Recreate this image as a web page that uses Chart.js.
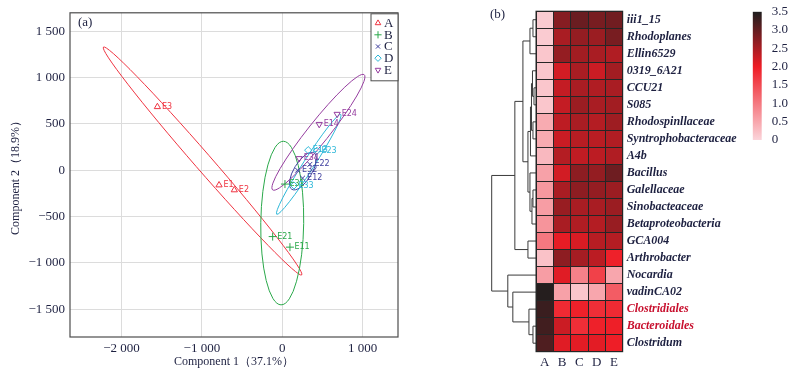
<!DOCTYPE html>
<html>
<head>
<meta charset="utf-8">
<script src="https://cdn.jsdelivr.net/npm/chart.js@4.4.1/dist/chart.umd.min.js"></script>
<style>
    body { margin: 0; background: #fff; }
    #wrap { position: relative; width: 791px; height: 371px; overflow: hidden; }
    canvas { position: absolute; top: 0; }
</style>
</head>
<body>
<div id="wrap">
    <canvas id="pca" width="410" height="371" style="left:0"></canvas>
    <canvas id="heat" width="265" height="371" style="left:480px"></canvas>
    <canvas id="bar" width="51" height="160" style="left:740px"></canvas>
</div>
<script>
// ---- panel (a) data ----
const groups = ["A", "B", "C", "D", "E"]
const namesA = ["E1", "E2", "E3"], xA = [-786, -596, -1553], yA = [-160, -213, 685]
const namesB = ["E11", "E21", "E31"], xB = [96, -119, 34], yB = [-830, -716, -149]
const namesC = ["E12", "E22", "E32"], xC = [253, 344, 191], yC = [-85, 64, 0]
const namesD = ["E13", "E23", "E33"], xD = [323, 431, 146], yD = [217, 210, -164]
const namesE = ["E14", "E24", "E34"], xE = [460, 683, 211], yE = [497, 606, 128]

// ellipse: centre, first semi-diameter, conjugate semi-diameter (data units)
const ellCentre = [[-991, 100], [0, -570], [257, -9], [330, 64], [450, 410]]
const ellU = [[-1233, 1230], [15, 883], [137, 197], [398, 539], [569, 622]]
const ellV = [[80, 59], [267, -5], [96, -49], [58, -31], [105, -68]]

const xTicks = [-2000, -1000, 0, 1000]
const yTicks = [-1500, -1000, -500, 0, 500, 1000, 1500]

// ---- panel (b) data ----
const rowLabels = ["iii1_15", "Rhodoplanes", "Ellin6529", "0319_6A21", "CCU21", "S085", "Rhodospinllaceae",
    "Syntrophobacteraceae", "A4b", "Bacillus", "Galellaceae", "Sinobacteaceae", "Betaproteobacteria",
    "GCA004", "Arthrobacter", "Nocardia", "vadinCA02", "Clostridiales", "Bacteroidales", "Clostridum"]
const redRows = ["Clostridiales", "Bacteroidales"]
const colLabels = ["A", "B", "C", "D", "E"]
const colA = [0.1, 0.1, 0.15, 0.15, 0.15, 0.15, 0.45, 0.45, 0.3, 0.55, 0.65, 0.6, 0.7, 1.0, 0.2, 0.6, 3.45, 3.3, 3.25, 3.15]
const colB = [2.75, 2.5, 2.65, 2.2, 2.3, 2.3, 2.35, 2.27, 2.42, 2.2, 2.5, 2.62, 2.5, 2.05, 2.7, 2.1, 0.55, 1.85, 2.25, 2.1]
const colC = [2.95, 2.65, 2.55, 2.5, 2.5, 2.6, 2.5, 2.4, 2.33, 2.7, 2.7, 2.5, 2.45, 2.15, 2.53, 0.9, 0.15, 1.95, 1.8, 2.08]
const colD = [2.85, 2.6, 2.5, 2.25, 2.45, 2.5, 2.42, 2.38, 2.36, 2.65, 2.65, 2.5, 2.42, 2.4, 2.37, 1.6, 0.5, 1.8, 1.95, 2.08]
const colE = [2.9, 2.85, 2.45, 2.55, 2.5, 2.55, 2.58, 2.45, 2.45, 2.92, 2.6, 2.6, 2.62, 2.42, 1.95, 0.5, 1.3, 1.85, 1.97, 1.98]

// row clustering: [left, right, height]; ids >= 20 are earlier merges
const merges = [
    [0, 1, 0.3], [20, 2, 0.6], [4, 5, 0.2], [3, 22, 0.35], [6, 7, 0.3], [23, 24, 0.45],
    [25, 8, 0.55], [10, 11, 0.3], [27, 12, 0.4], [9, 28, 0.6], [26, 29, 0.8], [21, 30, 1.3],
    [13, 14, 0.8], [31, 32, 2.1], [18, 19, 0.3], [17, 34, 0.7], [16, 35, 2.3], [15, 36, 2.8],
    [33, 37, 4.4]
]

const cbTicks = [0, 0.5, 1.0, 1.5, 2.0, 2.5, 3.0, 3.5]

// ---- styles ----
const serif = "'Liberation Serif', 'DejaVu Serif', serif"
const ink = "#1d2040"
const colors = ["#ef3340", "#2aa84a", "#3f3f9f", "#2db7d8", "#953d9f"]
const styles = ["triangle", "cross", "crossRot", "rectRot", "triangle"]
const rotations = [0, 0, 0, 0, 180]
const radii = [3.6, 4, 3.4, 3.6, 3.6]
const heatStops = [[0, [251, 212, 218]], [2, [238, 28, 37]], [3.5, [30, 30, 30]]]

let heatColor = (v) => {
    for (let i = 1; i < heatStops.length; i++) {
        let [v0, c0] = heatStops[i - 1]
        let [v1, c1] = heatStops[i]
        if (v <= v1 || i === heatStops.length - 1) {
            let t = Math.max(0, Math.min(1, (v - v0) / (v1 - v0)))
            let c = c0.map((c, k) => Math.round(c + (c1[k] - c) * t))
            return `rgb(${c[0]},${c[1]},${c[2]})`
        }
    }
}

let fmt = (v) => (v < 0 ? "\u2212" : "") + String(Math.abs(v)).replace(/\B(?=(\d{3})+(?!\d))/g, " ")

// ---- panel (a) ----
const pts = [[namesA, xA, yA], [namesB, xB, yB], [namesC, xC, yC], [namesD, xD, yD], [namesE, xE, yE]]

const ellipsePlugin = {
    id: "ellipses",
    beforeDatasetsDraw(chart) {
        const {ctx, scales: {x, y}, chartArea} = chart
        ctx.save()
        ctx.beginPath()
        ctx.rect(chartArea.left, chartArea.top, chartArea.right - chartArea.left, chartArea.bottom - chartArea.top)
        ctx.clip()
        groups.forEach((g, i) => {
            const [cx, cy] = ellCentre[i]
            const px = x.getPixelForValue(cx), py = y.getPixelForValue(cy)
            const ux = x.getPixelForValue(cx + ellU[i][0]) - px, uy = y.getPixelForValue(cy + ellU[i][1]) - py
            const vx = x.getPixelForValue(cx + ellV[i][0]) - px, vy = y.getPixelForValue(cy + ellV[i][1]) - py
            ctx.save()
            ctx.transform(ux, uy, vx, vy, px, py)
            ctx.beginPath()
            ctx.arc(0, 0, 1, 0, Math.PI * 2)
            ctx.restore()
            ctx.strokeStyle = colors[i]
            ctx.lineWidth = 1
            ctx.stroke()
        })
        ctx.restore()
    }
}

const labelPlugin = {
    id: "pointLabels",
    afterDatasetsDraw(chart) {
        const ctx = chart.ctx
        ctx.save()
        ctx.font = "8px 'DejaVu Sans', sans-serif"
        ctx.textBaseline = "middle"
        chart.data.datasets.forEach((ds, i) => {
            chart.getDatasetMeta(i).data.forEach((el, k) => {
                ctx.fillStyle = colors[i]
                ctx.fillText(pts[i][0][k], el.x + 4.5, el.y)
            })
        })
        ctx.restore()
    }
}

const framePlugin = {
    id: "frame",
    afterDraw(chart) {
        const {ctx, chartArea: a} = chart
        ctx.save()
        ctx.strokeStyle = "#4d4d4d"
        ctx.lineWidth = 1.2
        ctx.strokeRect(a.left, a.top, a.right - a.left, a.bottom - a.top)

        // legend box
        const w = 27, h = 67, lx = a.right - w, ly = a.top + 1
        ctx.fillStyle = "#fff"
        ctx.fillRect(lx, ly, w, h)
        ctx.lineWidth = 1
        ctx.strokeRect(lx, ly, w, h)
        groups.forEach((g, i) => {
            const yy = ly + 9.3 + i * 11.7
            ctx.strokeStyle = colors[i]
            ctx.fillStyle = "rgba(0,0,0,0)"
            ctx.lineWidth = 1
            Chart.helpers.drawPoint(ctx, {
                pointStyle: styles[i], rotation: rotations[i], radius: radii[i] - 0.4, borderWidth: 1
            }, lx + 7, yy)
            ctx.fillStyle = ink
            ctx.font = `13px ${serif}`
            ctx.textBaseline = "middle"
            ctx.fillText(g, lx + 13, yy + 0.5)
        })
        ctx.font = `13px ${serif}`
        ctx.fillStyle = ink
        ctx.fillText("(a)", a.left + 8, a.top + 10)
        ctx.restore()
    }
}

new Chart(document.getElementById("pca"), {
    type: "scatter",
    data: {
        datasets: groups.map((g, i) => ({
            label: g,
            data: pts[i][1].map((v, k) => ({x: v, y: pts[i][2][k]})),
            pointStyle: styles[i],
            rotation: rotations[i],
            pointRadius: radii[i],
            borderColor: colors[i],
            backgroundColor: "rgba(0,0,0,0)",
            pointBorderWidth: 1
        }))
    },
    options: {
        responsive: false,
        animation: false,
        layout: {padding: {top: 8, right: 12}},
        plugins: {legend: {display: false}, tooltip: {enabled: false}},
        scales: {
            x: {
                min: -2640, max: 1440,
                grid: {color: "#dcdcdc", drawTicks: false},
                border: {display: false},
                ticks: {color: ink, font: {family: serif, size: 13}, padding: 4, autoSkip: false, maxRotation: 0, callback: v => fmt(v)},
                afterBuildTicks: s => { s.ticks = xTicks.map(v => ({value: v})) },
                afterFit: s => { s.height = 34 },
                title: {display: true, text: "Component 1\uff0837.1%\uff09", color: ink, font: {family: serif, size: 12}, padding: {top: 0, bottom: 2}}
            },
            y: {
                min: -1800, max: 1700,
                grid: {color: "#dcdcdc", drawTicks: false},
                border: {display: false},
                ticks: {color: ink, font: {family: serif, size: 13}, padding: 5, autoSkip: false, callback: v => fmt(v)},
                afterBuildTicks: s => { s.ticks = yTicks.map(v => ({value: v})) },
                afterFit: s => { s.width = 70 },
                title: {display: true, text: "Component 2\uff0818.9%\uff09", color: ink, font: {family: serif, size: 12}, padding: {top: 9, bottom: 0}}
            }
        }
    },
    plugins: [ellipsePlugin, labelPlugin, framePlugin]
})

// ---- panel (b) ----
const cols = [colA, colB, colC, colD, colE]

const dendroPlugin = {
    id: "dendro",
    afterDraw(chart) {
        const {ctx, chartArea: a, scales: {y}} = chart
        const maxH = Math.max(...merges.map(m => m[2]))
        const pxPerUnit = 44.3 / maxH
        const nodes = rowLabels.map((r, i) => ({x: a.left, y: y.getPixelForValue(i)}))
        ctx.save()
        ctx.strokeStyle = "#3a3a3a"
        ctx.lineWidth = 1
        merges.forEach(([l, r, h]) => {
            const nl = nodes[l], nr = nodes[r]
            const nx = a.left - h * pxPerUnit
            ctx.beginPath()
            ctx.moveTo(nl.x, nl.y)
            ctx.lineTo(nx, nl.y)
            ctx.lineTo(nx, nr.y)
            ctx.lineTo(nr.x, nr.y)
            ctx.stroke()
            nodes.push({x: nx, y: (nl.y + nr.y) / 2})
        })
        // outer frame of the cell grid
        ctx.strokeStyle = "#262626"
        ctx.strokeRect(a.left, a.top, a.right - a.left, a.bottom - a.top)
        ctx.fillStyle = ink
        ctx.font = `13px ${serif}`
        ctx.textBaseline = "middle"
        ctx.fillText("(b)", 10, 15)
        ctx.restore()
    }
}

new Chart(document.getElementById("heat"), {
    type: "bar",
    data: {
        labels: rowLabels,
        datasets: colLabels.map((c, j) => ({
            label: c,
            data: rowLabels.map(() => 1),
            backgroundColor: cols[j].map(heatColor),
            borderWidth: 0,
            barPercentage: 1,
            categoryPercentage: 1
        }))
    },
    options: {
        indexAxis: "y",
        responsive: false,
        animation: false,
        layout: {padding: {left: 56, top: 8.3}},
        plugins: {legend: {display: false}, tooltip: {enabled: false}},
        scales: {
            x: {
                type: "linear", min: 0, max: 5, stacked: true,
                grid: {color: "#262626", drawTicks: false, z: 1},
                border: {display: false},
                ticks: {display: false, stepSize: 1},
                afterFit: s => { s.height = 0 }
            },
            xLab: {
                type: "category", axis: "x", position: "bottom", labels: colLabels, offset: true,
                grid: {display: false, drawTicks: false},
                border: {display: false},
                ticks: {color: ink, font: {family: serif, size: 13}, padding: 3},
                afterFit: s => { s.height = 19.3 }
            },
            y: {
                type: "category", position: "right", stacked: true, offset: true,
                grid: {color: "#262626", offset: true, drawTicks: false, z: 1},
                border: {display: false},
                ticks: {
                    padding: 4, autoSkip: false,
                    font: {family: serif, size: 12, style: "italic", weight: "bold"},
                    color: c => redRows.includes(rowLabels[c.index]) ? "#c8102e" : ink
                },
                afterFit: s => { s.width = 122.3 }
            }
        }
    },
    plugins: [dendroPlugin]
})

// ---- colour key ----
new Chart(document.getElementById("bar"), {
    type: "bar",
    data: {
        labels: [""],
        datasets: [{
            data: [cbTicks[cbTicks.length - 1]],
            backgroundColor: (c) => {
                const a = c.chart.chartArea
                if (!a) return heatColor(2)
                const g = c.chart.ctx.createLinearGradient(0, a.bottom, 0, a.top)
                const top = cbTicks[cbTicks.length - 1]
                heatStops.forEach(([v]) => g.addColorStop(v / top, heatColor(v)))
                return g
            },
            borderWidth: 0,
            barPercentage: 1,
            categoryPercentage: 1
        }]
    },
    options: {
        responsive: false,
        animation: false,
        layout: {padding: {left: 12.7, top: 11.7, bottom: 20}},
        plugins: {legend: {display: false}, tooltip: {enabled: false}},
        scales: {
            x: {display: false},
            y: {
                position: "right", min: 0, max: 3.5,
                grid: {display: false},
                border: {display: false},
                ticks: {color: ink, font: {family: serif, size: 13}, padding: 2, autoSkip: false, callback: v => v === 0 ? "0" : v.toFixed(1)},
                afterBuildTicks: s => { s.ticks = cbTicks.map(v => ({value: v})) },
                afterFit: s => { s.width = 29.3 }
            }
        }
    }
})
</script>
</body>
</html>
